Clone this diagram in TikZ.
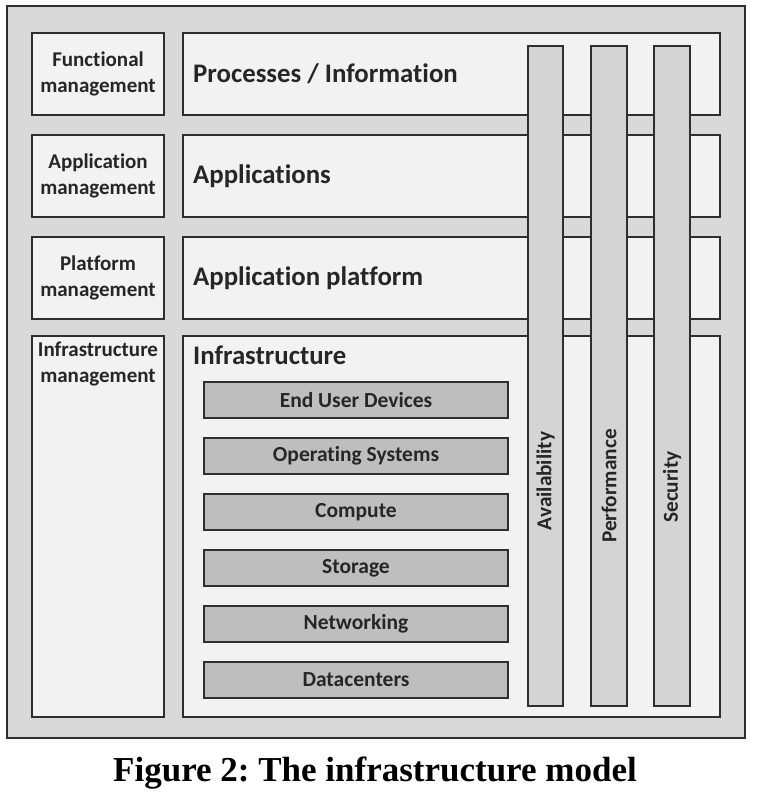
\documentclass[tikz,border=0pt]{standalone}
\usepackage{fontspec}
\setmainfont{Liberation Serif}
\newfontfamily\calibri[Ligatures=NoCommon]{Carlito}
\frenchspacing
\usetikzlibrary{positioning}

\definecolor{rim}{HTML}{2E2E2E}
\definecolor{bgray}{HTML}{D9D9D9}
\definecolor{lgray}{HTML}{F2F2F2}
\definecolor{cgray}{HTML}{D4D4D4}
\definecolor{dgray}{HTML}{BEBEBE}

\begin{document}
\begin{tikzpicture}[x=1pt,y=-1pt,line join=miter,
  outerbox/.style={draw=rim,line width=2pt,fill=bgray,inner sep=0pt},
  mgmtbox/.style={draw=rim,line width=1.8pt,fill=lgray,inner sep=0pt,minimum width=132pt},
  layerbox/.style={draw=rim,line width=1.8pt,fill=lgray,inner sep=0pt,minimum width=537pt},
  colbox/.style={draw=rim,line width=1.5pt,fill=cgray,inner sep=0pt,minimum height=660pt},
  compbox/.style={draw=rim,line width=1.6pt,fill=dgray,inner sep=0pt,minimum width=304pt,minimum height=36pt,
    font=\calibri\bfseries\fontsize{21.5}{24}\selectfont,text=black!85},
  mgmtlabel/.style={align=center,inner sep=0pt,font=\calibri\bfseries\fontsize{21}{26}\selectfont,text=black!85},
  layerlabel/.style={anchor=west,inner sep=0pt,font=\calibri\bfseries\fontsize{26.8}{30}\selectfont,text=black!85},
  collabel/.style={rotate=90,inner sep=0pt,font=\calibri\bfseries\fontsize{21.3}{24}\selectfont,text=black!85}]
\useasboundingbox (0,0) rectangle (760,796);

% Rahmen
\node[outerbox,minimum width=738pt,minimum height=732pt] (frame) at (376,372) {};

% obere drei Schichten: Mitte y / Name / Management / Schicht
\foreach \y/\n/\m/\l in {74/func/{Functional\\management}/{Processes / Information},
                        176/appl/{Application\\management}/Applications,
                        278/plat/{Platform\\management}/{Application platform}}{
  \node[mgmtbox,minimum height=82pt] (\n mgmt) at (98,\y) {};
  \node[mgmtlabel] (\n mgmtlabel) at (\n mgmt.center) {\m};
  \node[layerbox,minimum height=82pt] (\n layer) at (451.5,\y) {};
  \node[layerlabel] (\n label) at (193,\y) {\l};
}

% Infrastruktur
\node[mgmtbox,minimum height=381pt] (inframgmt) at (98,526.5) {};
\node[mgmtlabel,anchor=north] (inframgmtlabel) at (98,342) {Infrastructure\\management};
\node[layerbox,minimum height=381pt] (infralayer) at (451.5,526.5) {};
\node[layerlabel] (infralabel) at (193,355) {Infrastructure};

% Querschnitt-Säulen
\node[colbox,minimum width=35pt] (avail) at (545.5,376) {};
\node[colbox,minimum width=36pt] (perf) at (609,376) {};
\node[colbox,minimum width=36pt] (secu) at (672,376) {};
\node[collabel] (availlabel) at (545.5,481) {Availability};
\node[collabel] (perflabel) at (609,486) {Performance};
\node[collabel] (seculabel) at (672,487) {Security};

% Komponenten der Infrastruktur
\foreach \t [count=\i from 0] in {End User Devices,Operating Systems,Compute,Storage,Networking,Datacenters}
  \node[compbox] (comp\i) at (356,{400+56*\i}) {\t};

% Bildunterschrift
\node[font=\bfseries\fontsize{35}{39}\selectfont,inner sep=0pt] (caption) at (375,773) {Figure 2: The infrastructure model};

\end{tikzpicture}
\end{document}
